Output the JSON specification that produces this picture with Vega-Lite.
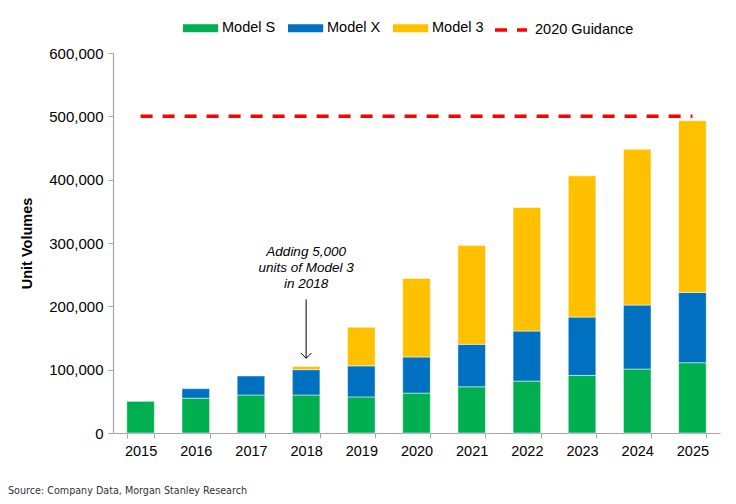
{
  "$schema": "https://vega.github.io/schema/vega-lite/v6.json",
  "width": 607,
  "height": 380,
  "autosize": {"type": "none"},
  "padding": {"left": 113, "top": 53, "right": 16, "bottom": 71},
  "background": "white",
  "config": {
    "view": {"stroke": null},
    "font": "Liberation Sans",
    "axis": {"grid": false, "labelFont": "Liberation Sans", "labelColor": "#000", "domainColor": "#A6A6A6", "tickColor": "#A6A6A6", "tickSize": 5, "domainWidth": 1.2},
    "legend": {"padding": 0}
  },
  "title": {
    "text": "Source: Company Data, Morgan Stanley Research",
    "orient": "bottom",
    "anchor": "start",
    "frame": "group",
    "font": "DejaVu Sans",
    "fontSize": 9.6,
    "fontWeight": "normal",
    "color": "#333333",
    "dx": -105,
    "offset": 28
  },
  "datasets": {
    "sales": [
      {"year": "2015", "model": "Model S", "units": 50000},
      {"year": "2016", "model": "Model S", "units": 55000},
      {"year": "2016", "model": "Model X", "units": 15000},
      {"year": "2017", "model": "Model S", "units": 60000},
      {"year": "2017", "model": "Model X", "units": 30000},
      {"year": "2018", "model": "Model S", "units": 60000},
      {"year": "2018", "model": "Model X", "units": 40000},
      {"year": "2018", "model": "Model 3", "units": 5000},
      {"year": "2019", "model": "Model S", "units": 57000},
      {"year": "2019", "model": "Model X", "units": 49000},
      {"year": "2019", "model": "Model 3", "units": 61000},
      {"year": "2020", "model": "Model S", "units": 63000},
      {"year": "2020", "model": "Model X", "units": 57000},
      {"year": "2020", "model": "Model 3", "units": 124000},
      {"year": "2021", "model": "Model S", "units": 73000},
      {"year": "2021", "model": "Model X", "units": 67000},
      {"year": "2021", "model": "Model 3", "units": 156000},
      {"year": "2022", "model": "Model S", "units": 82000},
      {"year": "2022", "model": "Model X", "units": 79000},
      {"year": "2022", "model": "Model 3", "units": 195000},
      {"year": "2023", "model": "Model S", "units": 91000},
      {"year": "2023", "model": "Model X", "units": 92000},
      {"year": "2023", "model": "Model 3", "units": 223000},
      {"year": "2024", "model": "Model S", "units": 101000},
      {"year": "2024", "model": "Model X", "units": 101000},
      {"year": "2024", "model": "Model 3", "units": 246000},
      {"year": "2025", "model": "Model S", "units": 111000},
      {"year": "2025", "model": "Model X", "units": 111000},
      {"year": "2025", "model": "Model 3", "units": 271000}
    ],
    "guidance": [
      {"from": "2015", "to": "2025", "units": 500000, "series": "2020 Guidance"}
    ],
    "note": [
      {"year": "2018", "label": "Adding 5,000\nunits of Model 3\nin 2018", "textY": 286000, "arrowTop": 211000, "arrowEnd": 118000}
    ]
  },
  "layer": [
    {
      "data": {"name": "sales"},
      "transform": [
        {"calculate": "indexof(['Model S', 'Model X', 'Model 3'], datum.model)", "as": "stackOrder"}
      ],
      "mark": {"type": "bar", "stroke": "white", "strokeWidth": 0.7, "strokeOpacity": 0.7},
      "encoding": {
        "x": {
          "field": "year", "type": "ordinal",
          "scale": {"paddingInner": 0.5, "paddingOuter": 0.25},
          "axis": {"title": null, "labelAngle": 0, "labelFontSize": 14.5, "labelPadding": 6, "tickBand": "extent"}
        },
        "y": {
          "field": "units", "type": "quantitative",
          "stack": "zero",
          "scale": {"domain": [0, 600000], "nice": false},
          "axis": {
            "title": "Unit Volumes", "values": [0, 100000, 200000, 300000, 400000, 500000, 600000],
            "format": ",d", "labelFontSize": 15, "labelPadding": 5,
            "titleFontSize": 14.5, "titleFontWeight": "bold", "titleColor": "#000", "titlePadding": 14
          }
        },
        "order": {"field": "stackOrder", "type": "quantitative", "sort": "ascending"},
        "color": {
          "field": "model", "type": "nominal",
          "scale": {"domain": ["Model S", "Model X", "Model 3"], "range": ["#00B050", "#0070C0", "#FFC000"]},
          "legend": {
            "title": null, "orient": "none", "direction": "horizontal",
            "legendX": 70, "legendY": -33,
            "symbolType": "M-1,-0.5H3.4V0.5H-1Z", "symbolSize": 256, "symbolStrokeWidth": 0,
            "labelOffset": 23, "labelFontSize": 14.5, "labelColor": "#000", "columnPadding": 12
          }
        }
      }
    },
    {
      "data": {"name": "guidance"},
      "mark": {"type": "rule", "color": "#FF0000", "strokeWidth": 3.5},
      "encoding": {
        "x": {"field": "from", "type": "ordinal"},
        "x2": {"field": "to"},
        "y": {"field": "units", "type": "quantitative"},
        "strokeDash": {
          "field": "series", "type": "nominal",
          "scale": {"domain": ["2020 Guidance"], "range": [[12, 10]]},
          "legend": {
            "title": null, "orient": "none", "direction": "horizontal",
            "legendX": 380, "legendY": -41,
            "symbolType": "stroke", "symbolSize": 1024, "symbolStrokeColor": "#FF0000",
            "symbolStrokeWidth": 3.5, "symbolDash": [10, 12],
            "labelOffset": 6, "labelFontSize": 14.5, "labelColor": "#000"
          }
        }
      }
    },
    {
      "data": {"name": "note"},
      "mark": {"type": "text", "lineBreak": "\n", "align": "center", "baseline": "middle", "fontStyle": "italic", "fontSize": 13.5, "lineHeight": 16, "color": "#000"},
      "encoding": {
        "x": {"field": "year", "type": "ordinal"},
        "y": {"field": "textY", "type": "quantitative"},
        "text": {"field": "label"}
      }
    },
    {
      "data": {"name": "note"},
      "mark": {"type": "rule", "color": "#000", "strokeWidth": 1},
      "encoding": {
        "x": {"field": "year", "type": "ordinal"},
        "y": {"field": "arrowTop", "type": "quantitative"},
        "y2": {"field": "arrowEnd"}
      }
    },
    {
      "data": {"name": "note"},
      "mark": {"type": "point", "shape": "M-1,-1L0,0L1,-1", "size": 110, "filled": false, "stroke": "#000", "strokeWidth": 1, "opacity": 1},
      "encoding": {
        "x": {"field": "year", "type": "ordinal"},
        "y": {"field": "arrowEnd", "type": "quantitative"}
      }
    }
  ]
}
